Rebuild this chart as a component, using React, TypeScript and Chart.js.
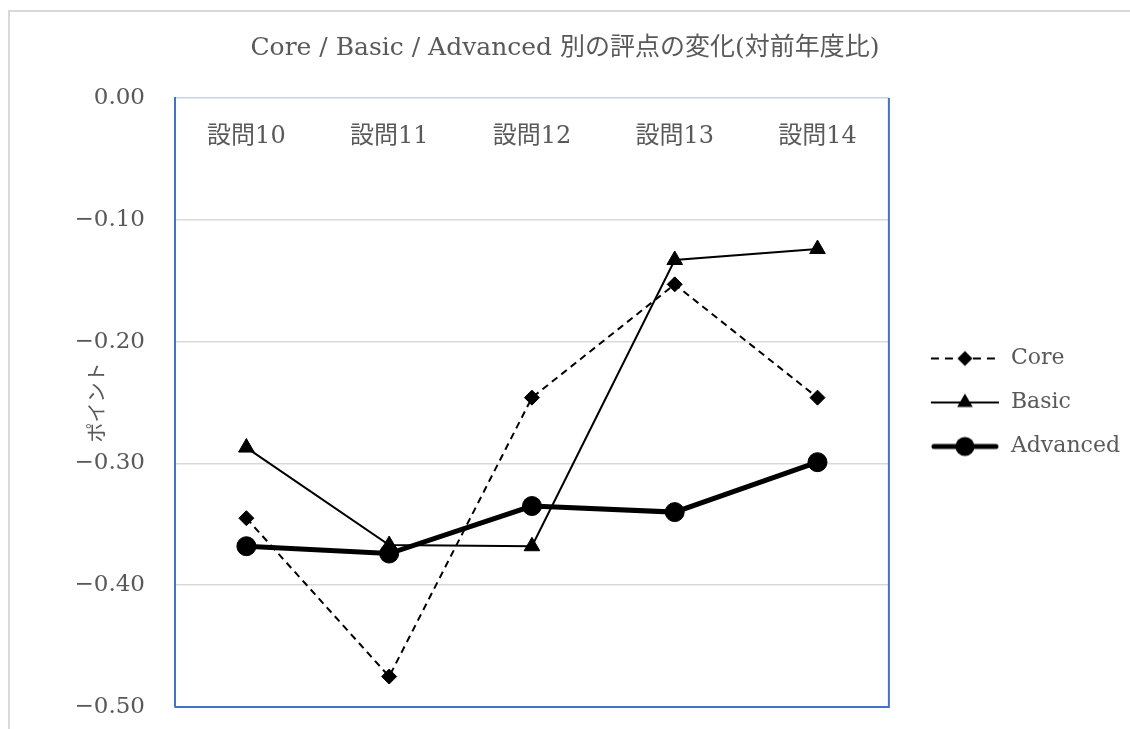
import React, { useEffect, useRef } from "react";
import { Chart, registerables } from "chart.js";

Chart.register(...registerables);

const categories = ["設問10", "設問11", "設問12", "設問13", "設問14"];
const seriesNames = ["Core", "Basic", "Advanced"];
const coreValues = [-0.345, -0.475, -0.246, -0.153, -0.246];
const basicValues = [-0.287, -0.367, -0.368, -0.133, -0.124];
const advancedValues = [-0.368, -0.374, -0.335, -0.34, -0.299];
const yMin = -0.5;
const yMax = 0;
const yStep = 0.1;
const titleText = "Core / Basic / Advanced 別の評点の変化(対前年度比)";
const yTitleText = "ポイント";

const FONT = '"DejaVu Serif", "Noto Sans CJK JP", serif';
const TEXT = "#595959";
const BLUE = "#4472c4";

function makeSwatch(kind: string): HTMLCanvasElement {
  const c = document.createElement("canvas");
  c.width = 89;
  c.height = 24;
  const g = c.getContext("2d")!;
  const x0 = 20;
  const x1 = 88;
  const cy = 12;
  const cx = (x0 + x1) / 2;
  g.strokeStyle = "#000";
  g.fillStyle = "#000";
  g.beginPath();
  if (kind === "Core") {
    g.lineWidth = 2;
    g.setLineDash([8, 6]);
  } else if (kind === "Basic") {
    g.lineWidth = 2;
  } else {
    g.lineWidth = 5;
    g.lineCap = "round";
  }
  g.moveTo(x0 + (kind === "Advanced" ? 3 : 0), cy);
  g.lineTo(x1 - (kind === "Advanced" ? 3 : 0), cy);
  g.stroke();
  g.setLineDash([]);
  g.beginPath();
  if (kind === "Core") {
    const r = 7.5;
    g.moveTo(cx, cy - r);
    g.lineTo(cx + r, cy);
    g.lineTo(cx, cy + r);
    g.lineTo(cx - r, cy);
  } else if (kind === "Basic") {
    const r = 9;
    let a = 0;
    for (let i = 0; i < 3; i++) {
      const px = cx + Math.sin(a) * r;
      const py = cy - Math.cos(a) * r;
      if (i === 0) g.moveTo(px, py);
      else g.lineTo(px, py);
      a += (2 * Math.PI) / 3;
    }
  } else {
    g.arc(cx, cy, 9.5, 0, Math.PI * 2);
  }
  g.closePath();
  g.fill();
  return c;
}

const framePlugin = {
  id: "frame",
  beforeDraw(chart: any) {
    const ctx = chart.ctx;
    ctx.save();
    ctx.strokeStyle = "#d9d9d9";
    ctx.lineWidth = 2;
    ctx.beginPath();
    ctx.moveTo(9, chart.height);
    ctx.lineTo(9, 11);
    ctx.lineTo(chart.width, 11);
    ctx.stroke();
    ctx.restore();
  },
  afterDraw(chart: any) {
    const { ctx, chartArea: a } = chart;
    ctx.save();
    ctx.strokeStyle = BLUE;
    ctx.lineWidth = 2;
    ctx.beginPath();
    ctx.moveTo(a.left, a.bottom);
    ctx.lineTo(a.right, a.bottom);
    ctx.lineTo(a.right, a.top);
    ctx.stroke();
    ctx.restore();
  },
};

export default function App() {
  const ref = useRef<HTMLCanvasElement>(null);
  useEffect(() => {
    const swatches = seriesNames.map((n) => makeSwatch(n));
    const chart = new Chart(ref.current!, {
      type: "line",
      data: {
        labels: categories,
        datasets: [
          {
            label: seriesNames[0],
            data: coreValues,
            borderColor: "#000",
            backgroundColor: "#000",
            borderWidth: 2,
            borderDash: [7, 5],
            pointStyle: "rectRot",
            pointRadius: 7.5,
            pointBorderWidth: 1,
            pointBackgroundColor: "#000",
            pointBorderColor: "#000",
            tension: 0,
            order: 2,
          },
          {
            label: seriesNames[1],
            data: basicValues,
            borderColor: "#000",
            backgroundColor: "#000",
            borderWidth: 2,
            pointStyle: "triangle",
            pointRadius: 9,
            pointBorderWidth: 1,
            pointBackgroundColor: "#000",
            pointBorderColor: "#000",
            tension: 0,
            order: 1,
          },
          {
            label: seriesNames[2],
            data: advancedValues,
            borderColor: "#000",
            backgroundColor: "#000",
            borderWidth: 5,
            pointStyle: "circle",
            pointRadius: 9.5,
            pointBorderWidth: 1,
            pointBackgroundColor: "#000",
            pointBorderColor: "#000",
            tension: 0,
            order: 0,
          },
        ],
      },
      options: {
        animation: false,
        responsive: true,
        maintainAspectRatio: false,
        layout: { padding: { left: 0, right: 0, top: 0, bottom: 22 } },
        plugins: {
          title: {
            display: true,
            text: titleText,
            color: TEXT,
            font: { family: FONT, size: 25, weight: "normal" },
            padding: { top: 33, bottom: 35 },
          },
          legend: {
            display: true,
            position: "right",
            align: "center",
            fullSize: false,
            labels: {
              usePointStyle: true,
              pointStyleWidth: 89,
              padding: 22,
              color: TEXT,
              font: { family: FONT, size: 22 },
              generateLabels: (ch: any) =>
                ch.data.datasets.map((ds: any, i: number) => ({
                  text: ds.label,
                  fillStyle: "rgba(0,0,0,0)",
                  strokeStyle: "rgba(0,0,0,0)",
                  lineWidth: 0,
                  pointStyle: swatches[i],
                  hidden: false,
                  datasetIndex: i,
                  fontColor: TEXT,
                })),
            },
          },
          tooltip: { enabled: false },
        },
        scales: {
          x: {
            type: "category",
            position: "top",
            offset: true,
            grid: { display: false },
            border: { display: false },
            ticks: {
              mirror: true,
              padding: 24,
              maxRotation: 0,
              autoSkip: false,
              color: TEXT,
              font: { family: FONT, size: 24 },
            },
            afterFit: (s: any) => {
              s.height = 0;
            },
          },
          y: {
            type: "linear",
            min: yMin,
            max: yMax,
            ticks: {
              stepSize: yStep,
              padding: 30,
              color: TEXT,
              font: { family: FONT, size: 23 },
              callback: (v: any) => {
                const n = Number(v);
                if (Math.abs(n) < 1e-9) return "0.00";
                return (n < 0 ? "\u2212" : "") + Math.abs(n).toFixed(2);
              },
            },
            grid: {
              drawTicks: false,
              lineWidth: 1.5,
              color: (c: any) =>
                c.tick && Math.abs(c.tick.value) < 1e-9 ? "#c9d3e6" : "#d9d9d9",
            },
            border: { display: true, color: BLUE, width: 2 },
            title: {
              display: true,
              text: yTitleText,
              color: TEXT,
              font: { family: FONT, size: 20 },
              padding: { top: 87, bottom: 0 },
            },
            afterFit: (s: any) => {
              s.width = 175;
              s.paddingTop = 0;
              s.paddingBottom = 0;
            },
          },
        },
      },
      plugins: [framePlugin],
    } as any);
    return () => chart.destroy();
  }, []);
  return (
    <div
      style={{
        position: "fixed",
        left: 0,
        top: 0,
        width: 1130,
        height: 729,
        background: "#fff",
      }}
    >
      <canvas ref={ref} />
    </div>
  );
}
